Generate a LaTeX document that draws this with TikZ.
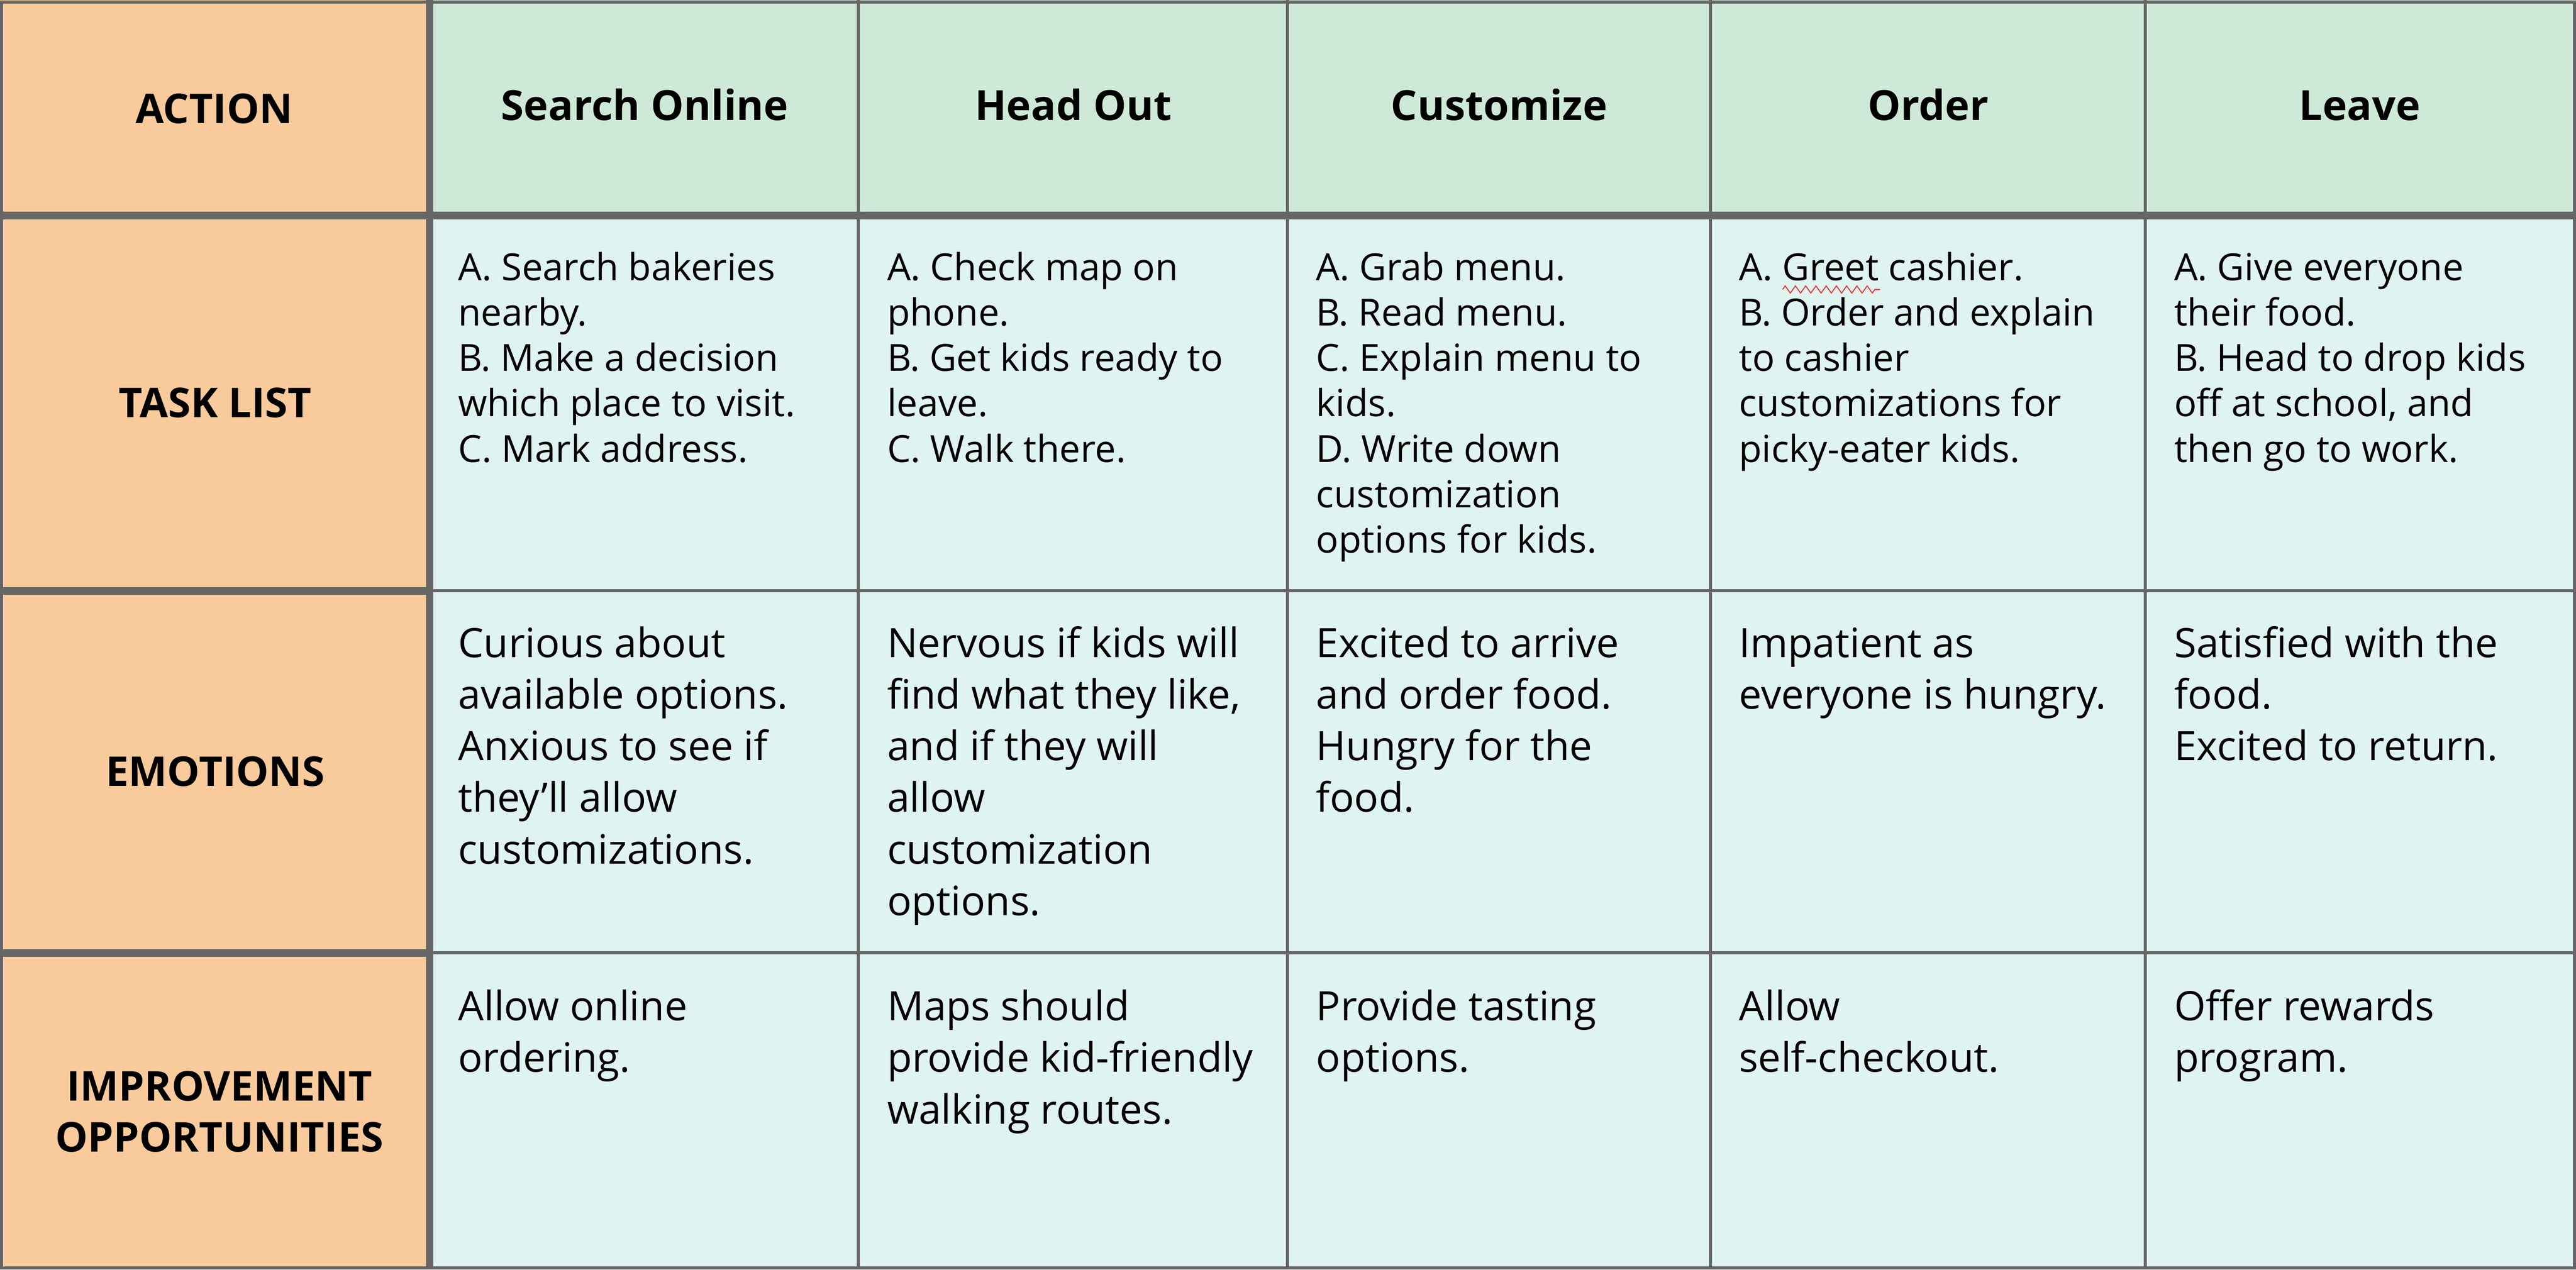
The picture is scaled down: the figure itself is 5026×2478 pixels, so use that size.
\documentclass[tikz,border=0pt]{standalone}
\usepackage{fontspec}
\setmainfont{Open Sans}
\usetikzlibrary{decorations.pathmorphing}
\definecolor{lineg}{HTML}{666666}
\definecolor{labelc}{HTML}{F9CB9C}
\definecolor{headc}{HTML}{CFE9D8}
\definecolor{cellc}{HTML}{DFF3F0}
\definecolor{spellred}{HTML}{E53935}
\newcommand\celllines[1]{\vtop{\halign{##\hfil\cr#1\crcr}}}
\newcommand\celllinesc[1]{\vtop{\halign{\hfil##\hfil\cr#1\crcr}}}
\begin{document}
\begin{tikzpicture}[x=0.2pt,y=-0.2pt,
  tasktxt/.style={anchor=base west, inner sep=0pt, font=\fontsize{14.56pt}{17.74pt}\selectfont},
  emotxt/.style={anchor=base west, inner sep=0pt, font=\fontsize{15.8pt}{20.14pt}\selectfont},
  headtxt/.style={anchor=base, inner sep=0pt, font=\fontsize{16.2pt}{19.8pt}\selectfont\bfseries},
  labtxt/.style={anchor=base, inner sep=0pt, font=\fontsize{16pt}{19.8pt}\selectfont\bfseries},
  gridthin/.style={draw=lineg, line width=1.2pt},
  gridthick/.style={draw=lineg, line width=3pt},
  gridborder/.style={draw=lineg, line width=1.2pt}]
\useasboundingbox (0,0) rectangle (5026,2478);
% fills
\fill[labelc] (0,0) rectangle (838,2478);
\fill[headc] (838,0) rectangle (5026,421);
\fill[cellc] (838,421) rectangle (5026,2478);
% thin grid lines
\foreach \xx in {1675,2512,3337,4186} \draw[gridthin] (\xx,0) -- (\xx,2478);
\foreach \yy in {1153,1860} \draw[gridthin] (838,\yy) -- (5026,\yy);
% thick lines
\draw[gridthick] (0,1153) -- (838,1153);
\draw[gridthick] (0,1860) -- (838,1860);
\draw[gridthick] (0,421) -- (5026,421);
\draw[draw=lineg, line width=2.8pt] (838,0) -- (838,2478);
% outer border
\draw[gridborder] (3,4) rectangle (5023,2475);

% header row
\node[labtxt] (hAction) at (418,241) {ACTION};
\node[headtxt] (h1) at (1258,235) {Search Online};
\node[headtxt] (h2) at (2094,235) {Head Out};
\node[headtxt] (h3) at (2925,235) {Customize};
\node[headtxt] (h4) at (3762,235) {Order};
\node[headtxt] (h5) at (4604,235) {Leave};

% label column
\node[labtxt] (lTask) at (420,815) {TASK LIST};
\node[labtxt] (lEmo) at (420,1534) {EMOTIONS};
\node[labtxt] (lImp) at (428,2149) {\celllinesc{IMPROVEMENT\cr OPPORTUNITIES}};

% task list row
\node[tasktxt] (t1) at (893,547) {\celllines{A. Search bakeries\cr nearby.\cr B. Make a decision\cr which place to visit.\cr C. Mark address.}};
\node[tasktxt] (t2) at (1730,547) {\celllines{A. Check map on\cr phone.\cr B. Get kids ready to\cr leave.\cr C. Walk there.}};
\node[tasktxt] (t3) at (2567,547) {\celllines{A. Grab menu.\cr B. Read menu.\cr C. Explain menu to\cr kids.\cr D. Write down\cr customization\cr options for kids.}};
\node[tasktxt] (t4) at (3392,547) {\celllines{A. Greet cashier.\cr B. Order and explain\cr to cashier\cr customizations for\cr picky-eater kids.}};
\node[tasktxt] (t5) at (4241,547) {\celllines{A. Give everyone\cr their food.\cr B. Head to drop kids\cr off at school, and\cr then go to work.}};
\draw[spellred, line width=0.4pt, decorate, decoration={zigzag, amplitude=1.4pt, segment length=4pt}] (3478,565) -- (3668,565);

% emotions row
\node[emotxt] (e1) at (893,1283) {\celllines{Curious about\cr available options.\cr Anxious to see if\cr they’ll allow\cr customizations.}};
\node[emotxt] (e2) at (1730,1283) {\celllines{Nervous if kids will\cr find what they like,\cr and if they will\cr allow\cr customization\cr options.}};
\node[emotxt] (e3) at (2567,1283) {\celllines{Excited to arrive\cr and order food.\cr Hungry for the\cr food.}};
\node[emotxt] (e4) at (3392,1283) {\celllines{Impatient as\cr everyone is hungry.}};
\node[emotxt] (e5) at (4241,1283) {\celllines{Satisfied with the\cr food.\cr Excited to return.}};

% improvement row
\node[emotxt] (i1) at (893,1992) {\celllines{Allow online\cr ordering.}};
\node[emotxt] (i2) at (1730,1992) {\celllines{Maps should\cr provide kid-friendly\cr walking routes.}};
\node[emotxt] (i3) at (2567,1992) {\celllines{Provide tasting\cr options.}};
\node[emotxt] (i4) at (3392,1992) {\celllines{Allow\cr self-checkout.}};
\node[emotxt] (i5) at (4241,1992) {\celllines{Offer rewards\cr program.}};
\end{tikzpicture}
\end{document}
